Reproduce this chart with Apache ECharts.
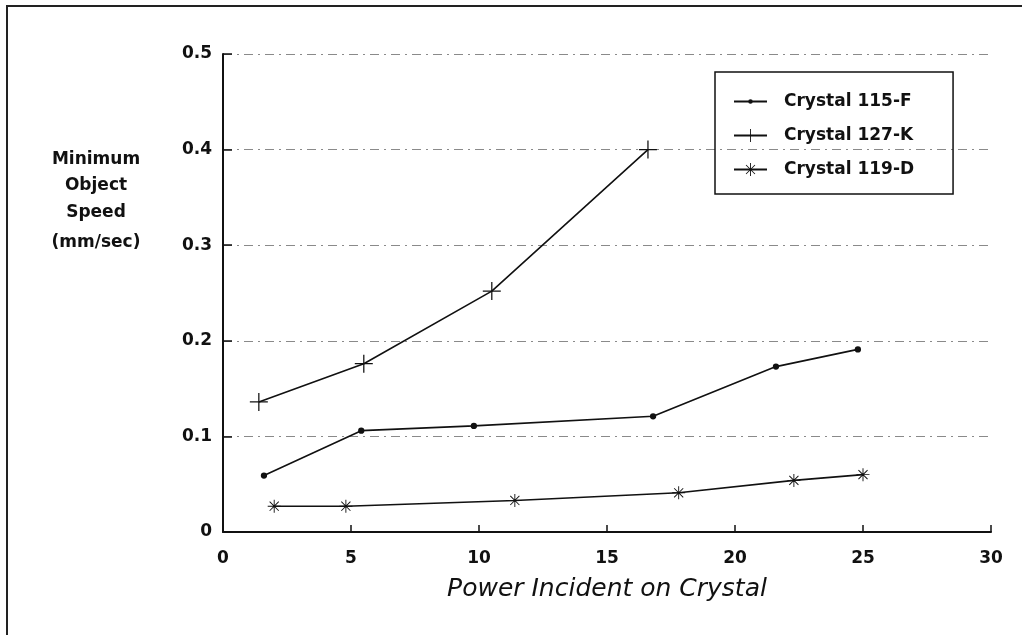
<!DOCTYPE html>
<html>
<head>
<meta charset="utf-8">
<script src="https://cdn.jsdelivr.net/npm/echarts@6/dist/echarts.min.js"></script>
<style>
  html, body { margin: 0; padding: 0; background: #fff; }
  #chart { width: 1022px; height: 635px; }
</style>
</head>
<body>
<div id="chart"></div>
<script>
// data
var power115 = [1.6, 5.4, 9.8, 16.8, 21.6, 24.8];
var speed115 = [0.059, 0.106, 0.111, 0.121, 0.173, 0.191];
var power127 = [1.4, 5.5, 10.5, 16.6];
var speed127 = [0.136, 0.176, 0.252, 0.4];
var power119 = [2.0, 4.8, 11.4, 17.8, 22.3, 25.0];
var speed119 = [0.027, 0.027, 0.033, 0.041, 0.054, 0.06];
var xTicks = [0, 5, 10, 15, 20, 25, 30];
var yTicks = [0, 0.1, 0.2, 0.3, 0.4, 0.5];
var seriesNames = ['Crystal 115-F', 'Crystal 127-K', 'Crystal 119-D'];
var yTitleLines = ['Minimum', 'Object', 'Speed', '(mm/sec)'];

function pairs(xs, ys) {
  return xs.map(function (x, i) { return [x, ys[i]]; });
}

var FONT = '"DejaVu Sans", "Liberation Sans", sans-serif';
// small dot inside a larger empty box so legend + series keep it small
var DOT = 'path://M-1,-1L-1,-1Z M1,1L1,1Z M-0.35,0A0.35,0.35 0 1 1 0.35,0A0.35,0.35 0 1 1 -0.35,0Z';
// plus and asterisk drawn as filled thin bars
var PLUS = 'path://M-0.07,-1H0.07V1H-0.07Z M-1,-0.07H1V0.07H-1Z';
var STAR = 'path://M-0.07,-1H0.07V1H-0.07Z M-1,-0.07H1V0.07H-1Z ' +
  'M-0.65,-0.75L0.75,0.65L0.65,0.75L-0.75,-0.65Z ' +
  'M0.65,-0.75L0.75,-0.65L-0.65,0.75L-0.75,0.65Z';

var myChart = echarts.init(document.getElementById('chart'));

// y title lines, centred on one column
var yTitleY = [160, 186, 213, 243];
var yTitle = yTitleLines.map(function (t, i) {
  return {
    type: 'text',
    x: 96,
    y: yTitleY[i],
    style: {
      text: t,
      font: 'bold 17px ' + FONT,
      fill: '#111',
      align: 'center',
      verticalAlign: 'middle',
    },
  };
});

var option = {
  backgroundColor: '#fff',
  animation: false,
  grid: {
    left: 223,
    right: 31,
    top: 54,
    bottom: 103,
  },
  legend: {
    orient: 'vertical',
    left: 715,
    top: 72,
    padding: [21, 39, 16, 18],
    itemGap: 17,
    itemWidth: 33,
    itemHeight: 16,
    borderColor: '#111',
    borderWidth: 1.5,
    data: seriesNames,
    textStyle: {
      fontFamily: FONT,
      fontSize: 17,
      fontWeight: 'bold',
      color: '#111',
      padding: [0, 0, 0, 12],
    },
  },
  xAxis: {
    type: 'value',
    min: 0,
    max: 30,
    interval: 5,
    name: 'Power Incident on Crystal',
    nameLocation: 'middle',
    nameGap: 45,
    nameTextStyle: {
      fontFamily: FONT,
      fontSize: 25,
      fontStyle: 'italic',
      color: '#111',
    },
    axisLine: { lineStyle: { color: '#111', width: 2 } },
    axisTick: { inside: true, length: 7, lineStyle: { color: '#111', width: 1.5 } },
    axisLabel: {
      fontFamily: FONT,
      fontSize: 17,
      fontWeight: 'bold',
      color: '#111',
      margin: 18,
      formatter: function (v) { return xTicks.indexOf(v) >= 0 ? String(v) : ''; },
    },
    splitLine: { show: false },
  },
  yAxis: {
    type: 'value',
    min: 0,
    max: 0.5,
    interval: 0.1,
    axisLine: { show: true, lineStyle: { color: '#111', width: 2 } },
    axisTick: { show: true, inside: true, length: 9, lineStyle: { color: '#111', width: 1.5 } },
    axisLabel: {
      fontFamily: FONT,
      fontSize: 17,
      fontWeight: 'bold',
      color: '#111',
      margin: 11,
      formatter: function (v) {
        var t = yTicks.find(function (k) { return Math.abs(k - v) < 1e-9; });
        return t === undefined ? '' : (t === 0 ? '0' : t.toFixed(1));
      },
    },
    splitLine: {
      show: true,
      lineStyle: { color: '#8a8a8a', width: 1, type: [9, 5, 2, 5] },
    },
  },
  graphic: [
    // page frame
    { type: 'line', shape: { x1: 6, y1: 6, x2: 1022, y2: 6 }, style: { stroke: '#222', lineWidth: 2 } },
    { type: 'line', shape: { x1: 7, y1: 6, x2: 7, y2: 635 }, style: { stroke: '#222', lineWidth: 2 } },
  ].concat(yTitle),
  series: [
    {
      name: seriesNames[0],
      type: 'line',
      data: pairs(power115, speed115),
      symbol: DOT,
      symbolSize: 18,
      itemStyle: { color: '#111' },
      lineStyle: { color: '#111', width: 1.6 },
    },
    {
      name: seriesNames[1],
      type: 'line',
      data: pairs(power127, speed127),
      symbol: PLUS,
      symbolSize: 18,
      itemStyle: { color: '#111' },
      lineStyle: { color: '#111', width: 1.6 },
    },
    {
      name: seriesNames[2],
      type: 'line',
      data: pairs(power119, speed119),
      symbol: STAR,
      symbolSize: 13,
      itemStyle: { color: '#111' },
      lineStyle: { color: '#111', width: 1.6 },
    },
  ],
};

myChart.setOption(option);
window.addEventListener('resize', function () {
  myChart.resize();
});
</script>
</body>
</html>
